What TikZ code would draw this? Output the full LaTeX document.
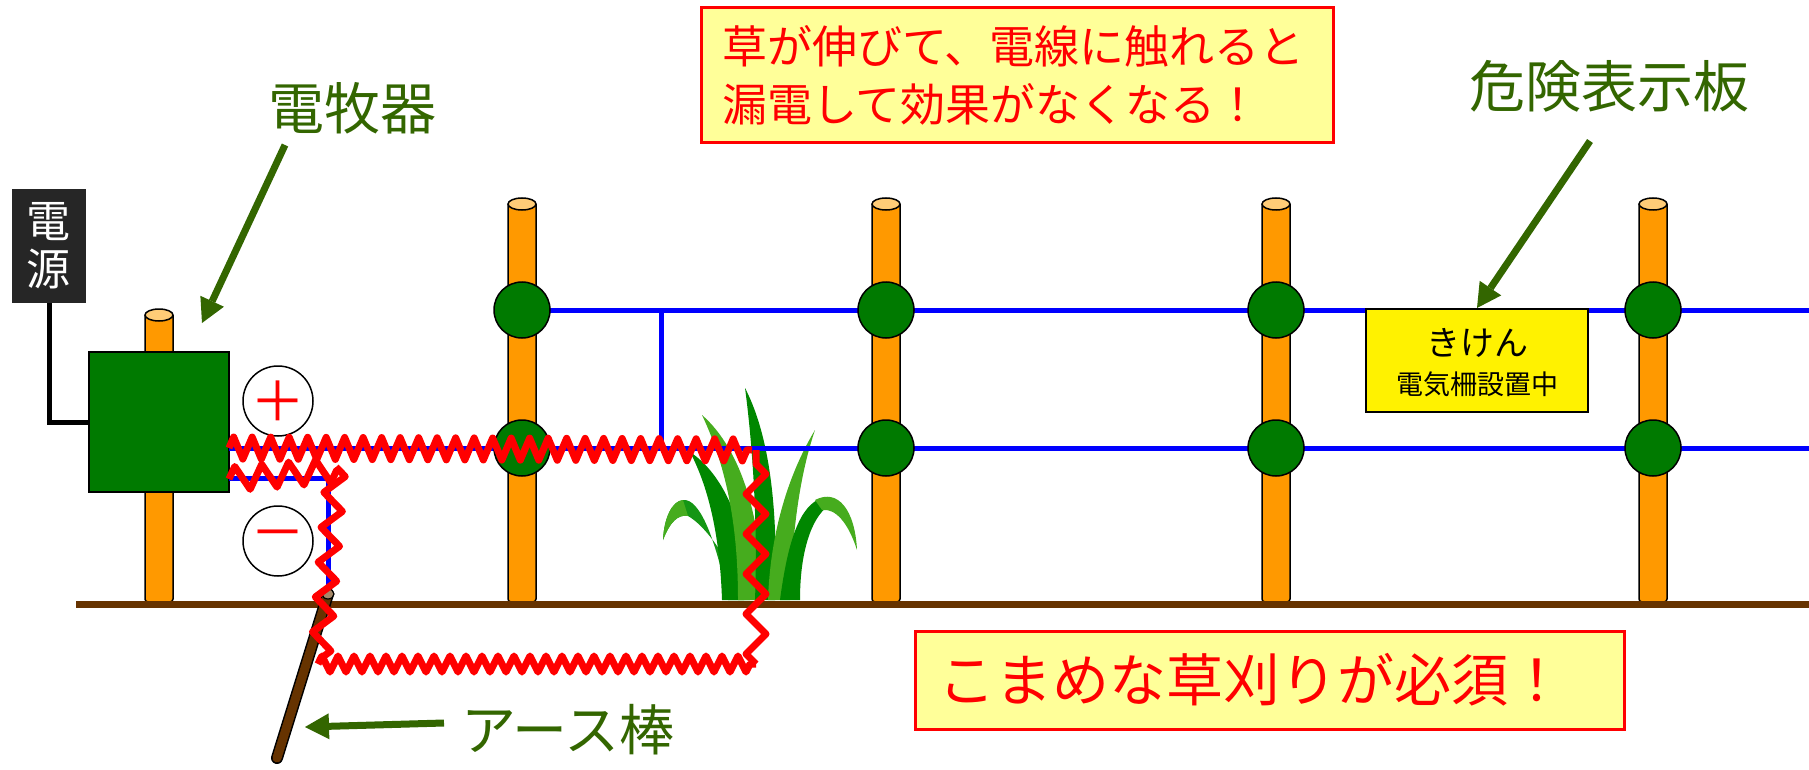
\documentclass[tikz,border=0pt]{standalone}
\usepackage{fontspec}
\newfontfamily\jp{Noto Sans CJK JP}
\usetikzlibrary{arrows.meta,positioning,decorations.pathmorphing}

\definecolor{postorange}{RGB}{255,153,0}
\definecolor{postcap}{RGB}{255,204,119}
\definecolor{boxgreen}{RGB}{0,122,0}
\definecolor{labelgreen}{RGB}{51,102,0}
\definecolor{soil}{RGB}{102,51,0}
\definecolor{rodcap}{RGB}{166,136,104}
\definecolor{notefill}{RGB}{255,255,153}
\definecolor{powergray}{RGB}{38,38,38}
\definecolor{grassdark}{RGB}{0,135,0}
\definecolor{grassmid}{RGB}{20,150,20}
\definecolor{grasslight}{RGB}{70,172,30}

\begin{document}
\begin{tikzpicture}[x=1pt, y=-1pt, font=\jp,
    wire/.style={blue, line width=5pt},
    leak/.style={red, line width=7pt, line join=round, decorate},
    insul/.style={circle, draw, line width=1.5pt, fill=boxgreen, minimum size=56pt, inner sep=0pt},
    sign/.style={circle, draw, line width=1.5pt, fill=white, minimum size=70pt, inner sep=0pt, text=red, font=\jp\fontsize{55}{55}\selectfont},
    callout/.style={labelgreen, line width=7pt, -{Triangle[length=24pt, width=26pt, line width=0pt]}},
    biglabel/.style={text=labelgreen, font=\jp\fontsize{56}{60}\selectfont},
    note/.style={draw=red, line width=3pt, fill=notefill, text=red, align=left, inner sep=0pt}]

  \useasboundingbox (0,0) rectangle (1809,770);

  % posts, the first one short and behind the energizer
  \foreach \px/\ptop in {159/315, 522/204, 886/204, 1276/204, 1653/204} {
    \draw[fill=postorange, line width=1.5pt, rounded corners=3pt]
      (\px-14,\ptop) -- (\px-14,602) -- (\px+14,602) -- (\px+14,\ptop);
    \draw[fill=postcap, line width=1.5pt] (\px,\ptop) ellipse (14 and 6);
  }

  % ground
  \draw[soil, line width=7pt] (76,604) -- (1809,604);

  % grass clump
  \fill[grassmid] (728,600) .. controls (716,540) and (700,498) .. (683,500)
    .. controls (672,501) and (664,518) .. (663,540)
    .. controls (670,522) and (678,514) .. (688,516)
    .. controls (706,526) and (730,560) .. (744,600) -- cycle;
  \fill[grasslight] (683,500) .. controls (672,501) and (664,518) .. (663,540)
    .. controls (670,522) and (678,514) .. (688,516) -- cycle;
  \fill[grassdark] (690,452) .. controls (725,475) and (748,530) .. (750,600)
    -- (722,600) .. controls (720,540) and (710,490) .. (690,452) -- cycle;
  \fill[grasslight] (702,415) .. controls (742,450) and (762,520) .. (762,600)
    -- (738,600) .. controls (738,530) and (728,470) .. (702,415) -- cycle;
  \fill[grassdark] (745,388) .. controls (772,440) and (778,520) .. (775,600)
    -- (755,600) .. controls (758,520) and (752,440) .. (745,388) -- cycle;
  \fill[grasslight] (815,430) .. controls (785,480) and (770,540) .. (768,600)
    -- (790,600) .. controls (792,540) and (798,480) .. (815,430) -- cycle;
  \fill[grassdark] (780,600) .. controls (788,540) and (800,505) .. (822,498)
    -- (828,506) .. controls (812,518) and (800,550) .. (800,600) -- cycle;
  \fill[grasslight] (815,500) .. controls (838,488) and (855,510) .. (857,550)
    .. controls (848,522) and (835,508) .. (822,510) -- cycle;

  % energizer and power supply
  \node[draw, line width=1.5pt, fill=boxgreen, minimum size=140pt, inner sep=0pt, outer sep=0pt] (kiki) at (159,422) {};
  \node[fill=powergray, text=white, minimum width=74pt, minimum height=114pt, inner sep=0pt, outer sep=0pt,
        align=center, font=\jp\fontsize{44}{48}\selectfont] (dengen) at (49,246) {電\\源};
  \draw[line width=5pt] (dengen.south) |- (kiki.west);

  % wire positions
  \foreach \px [count=\i] in {522,886,1276,1653} {
    \coordinate (top\i) at (\px,310);
    \coordinate (low\i) at (\px,448);
  }
  \coordinate (upR) at (1809,310);
  \coordinate (lowR) at (1809,448);
  \coordinate (tap) at (661,310);
  \coordinate (rodtop) at (328,594);
  \coordinate (rodbot) at (277,758);

  % fence wires
  \draw[wire] (kiki.east |- lowR) -- (lowR);
  \draw[wire] (top1) -- (upR);
  \draw[wire] (tap) -- (tap |- low1);
  \draw[wire] (kiki.east |- 0,478) -| (rodtop);

  % earth rod
  \draw[line width=12pt, line cap=round] (rodtop) -- (rodbot);
  \draw[soil, line width=9pt, line cap=round] (rodtop) -- (rodbot);
  \draw[fill=rodcap, line width=1.2pt] (rodtop) ellipse (6 and 5);

  % insulators
  \foreach \i in {1,...,4} {
    \node[insul] (itop\i) at (top\i) {};
    \node[insul] (ilow\i) at (low\i) {};
  }

  % terminals
  \node[sign] (plus) at (278,401) {＋};
  \node[sign] (minus) at (278,541) {－};

  % leakage through the grass
  \draw[leak, decoration={zigzag, segment length=18.5pt, amplitude=11pt}] (kiki.east |- lowR) -- (752,450);
  \draw[leak, decoration={zigzag, segment length=27pt, amplitude=12pt}] (229,479) -- (340,470);
  \draw[leak, decoration={zigzag, segment length=35pt, amplitude=10pt}] (336,467) -- (320,662);
  \draw[leak, decoration={zigzag, segment length=16pt, amplitude=8pt}] (318,664) -- (756,664);
  \draw[leak, decoration={zigzag, segment length=40pt, amplitude=10pt}] (756,664) -- (756,450);

  % warning board
  \node[draw, line width=2pt, fill=yellow, minimum width=222pt, minimum height=103pt, inner sep=0pt] (board) at (1477,360.5) {};
  \node[font=\jp\fontsize{34}{34}\selectfont] (kiken) at (1477,343) {きけん};
  \node[font=\jp\fontsize{27}{27}\selectfont] (setchi) at (1477,384) {電気柵設置中};

  % notes
  \node[note, minimum width=632pt, minimum height=135pt, text width=590pt, font=\jp\fontsize{45}{58}\selectfont]
    (leaknote) at (1017,75.5) {草が伸びて、電線に触れると\\漏電して効果がなくなる！};
  \node[note, minimum width=709pt, minimum height=98pt, text width=663pt, font=\jp\fontsize{57}{60}\selectfont]
    (mownote) at (1269.5,680) {こまめな草刈りが必須！};

  % labels and arrows
  \node[biglabel] (kikilabel) at (352,108) {電牧器};
  \coordinate (kikitail) at (285,145);
  \coordinate (kikitip) at (202,323);
  \draw[callout] (kikitail) -- (kikitip);

  \node[biglabel] (boardlabel) at (1609,86) {危険表示板};
  \coordinate (boardtail) at (1590,141);
  \draw[callout] (boardtail) -- (board.north);

  \node[biglabel, font=\jp\fontsize{55}{60}\selectfont] (rodlabel) at (568,730) {アース棒};
  \coordinate (rodtail) at (444,723);
  \coordinate (rodtip) at (305,727);
  \draw[callout] (rodtail) -- (rodtip);
\end{tikzpicture}
\end{document}
